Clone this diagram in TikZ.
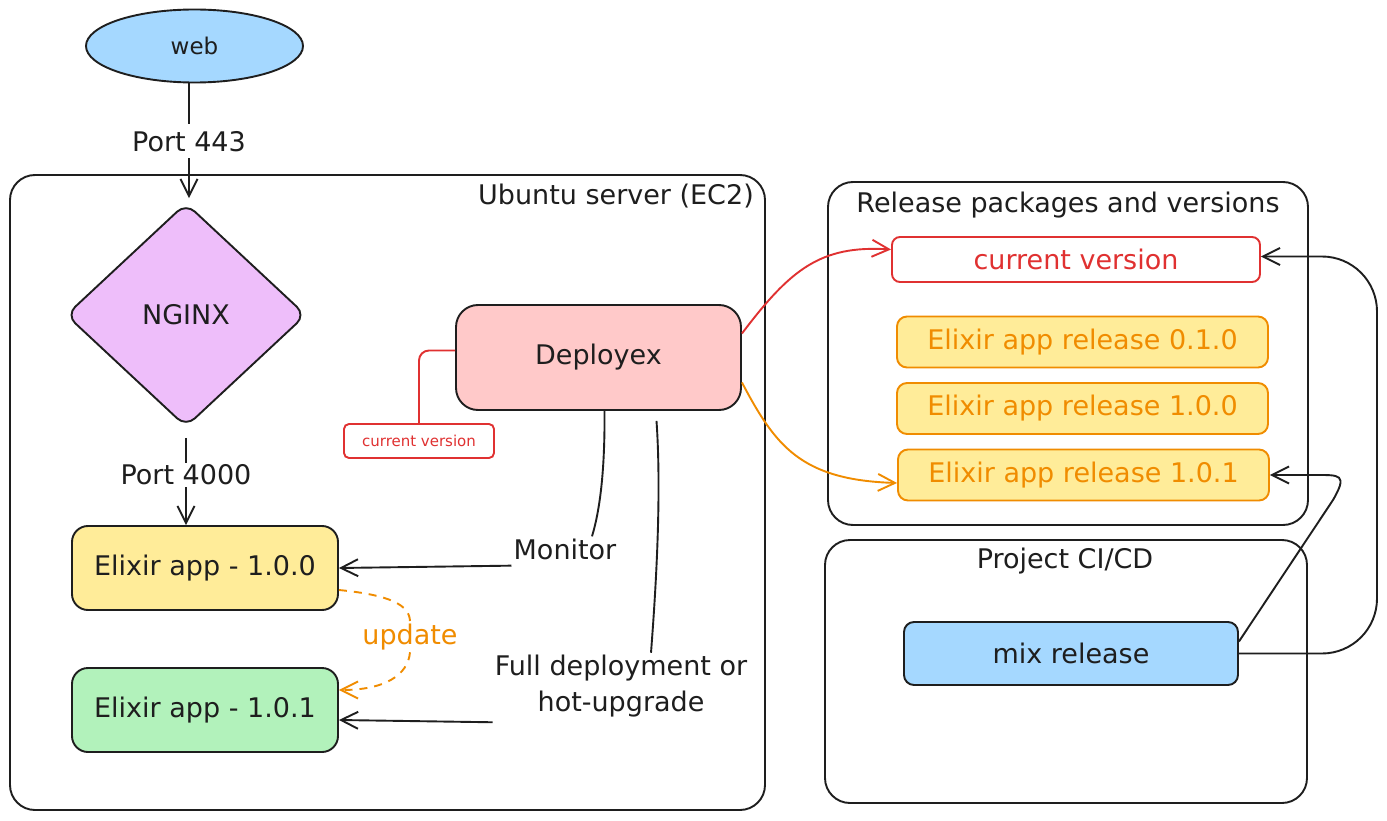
\documentclass[tikz,border=0pt]{standalone}
\usepackage{fontspec}
\setmainfont{DejaVu Sans}
\usetikzlibrary{shapes.geometric,arrows.meta}
\definecolor{ink}{HTML}{1E1E1E}
\definecolor{xred}{HTML}{E03131}
\definecolor{xorange}{HTML}{F08C00}
\definecolor{fyellow}{HTML}{FFEC99}
\definecolor{fgreen}{HTML}{B2F2BB}
\definecolor{fpink}{HTML}{FFC9C9}
\definecolor{fblue}{HTML}{A5D8FF}
\definecolor{fpurple}{HTML}{EEBEFA}
\newcommand\fsz[2]{\fontsize{#1}{#2}\selectfont}
\begin{document}
\begin{tikzpicture}[x=1pt,y=-1pt,
  every node/.style={text=ink, font=\fsz{27}{36}, inner sep=2pt},
  container/.style={draw=ink, line width=1.9pt, rounded corners=25pt, inner sep=0pt},
  box/.style={draw=ink, line width=1.9pt, inner sep=0pt},
  rel/.style={draw=xorange, fill=fyellow, text=xorange, line width=1.9pt, rounded corners=10pt, minimum width=371pt, minimum height=51pt, inner sep=0pt},
  conn/.style={draw=ink, line width=1.9pt},
  tipend/.style={-{Straight Barb[length=17pt,width=17pt]}},
  arr/.style={conn, tipend}
]
\fill[white] (0,0) rectangle (1387,821);
\useasboundingbox (0,0) rectangle (1387,821);

% containers
\node[container, minimum width=755pt, minimum height=635pt] (ubuntu) at (387.5,492.5) {};
\node (ubtitle) at (616,196) {Ubuntu server (EC2)};
\node[container, minimum width=480pt, minimum height=343pt] (relbox) at (1068,353.5) {};
\node (reltitle) at (1068,205) {Release packages and versions};
\node[container, minimum width=482pt, minimum height=263pt] (cibox) at (1066,671.5) {};
\node (cititle) at (1065,561) {Project CI/CD};

% left column
\node[ellipse, draw=ink, line width=1.9pt, fill=fblue, minimum width=217pt, minimum height=73pt, inner sep=0pt, font=\fsz{23}{28}] (web) at (194.5,46) {web};
\node (p443) at (189,142) {Port 443};
\node[diamond, draw=ink, line width=1.9pt, fill=fpurple, rounded corners=12pt, minimum width=240pt, minimum height=224pt, inner sep=0pt] (nginx) at (186,315) {NGINX};
\node (p4000) at (186,475) {Port 4000};
\node[box, fill=fyellow, rounded corners=16pt, minimum width=266pt, minimum height=84pt] (e100) at (205,568) {Elixir app - 1.0.0};
\node[box, fill=fgreen, rounded corners=16pt, minimum width=266pt, minimum height=84pt] (e101) at (205,710) {Elixir app - 1.0.1};

% deployex
\node[box, fill=fpink, rounded corners=22pt, minimum width=285pt, minimum height=105pt] (deployex) at (598.5,357.5) {Deployex};
\node[draw=xred, text=xred, line width=1.9pt, rounded corners=5pt, minimum width=150pt, minimum height=34pt, inner sep=0pt, font=\fsz{15}{18}] (cvsmall) at (419,441) {current version};
\node (monitor) at (565,549) {Monitor};
\node[align=center] (full) at (621,686) {Full deployment or\\hot-upgrade};
\node[text=xorange] (update) at (410,637) {update};

% releases
\node[draw=xred, fill=white, text=xred, line width=1.9pt, rounded corners=8pt, minimum width=368pt, minimum height=45pt, inner sep=0pt] (cvbig) at (1076,259.5) {current version};
\node[rel] (r010) at (1082.5,342) {Elixir app release 0.1.0};
\node[rel] (r100) at (1082.5,408.5) {Elixir app release 1.0.0};
\node[rel] (r101) at (1083.5,475) {Elixir app release 1.0.1};
\node[box, fill=fblue, rounded corners=10pt, minimum width=334pt, minimum height=63pt] (mix) at (1071,653.5) {mix release};

% connectors
\draw[conn] (p443.north |- web.south) -- ([yshift=6pt]p443.north);
\draw[arr] ([yshift=-4pt]p443.south) -- ([yshift=4pt]p443.south |- nginx.north);
\draw[conn] ([yshift=-10pt]nginx.south) -- (p4000.north);
\draw[arr] (p4000.south) -- (p4000.south |- e100.north);

\draw[xred, line width=1.9pt, rounded corners=10pt] ([yshift=7pt]deployex.west) -| (cvsmall.north);

\draw[conn] ([xshift=6pt]deployex.south) .. controls (605,470) and (600,510) .. ([xshift=27pt]monitor.north);
\draw[arr] ([yshift=-4pt]monitor.south west) -- (e100.east);

\draw[conn] ([xshift=58pt,yshift=-10pt]deployex.south) .. controls (662,500) and (655,600) .. ([xshift=30pt]full.north);
\draw[arr] ([yshift=-3pt]full.south west) -- ([yshift=-10pt]e101.east);

\draw[xorange, line width=1.9pt, dash pattern=on 8pt off 7pt] ([yshift=-22pt]e100.east) .. controls (390,595) and (410,605) .. (update.north);
\draw[xorange, line width=1.9pt, dash pattern=on 8pt off 7pt, tipend] (update.south) .. controls (408,675) and (385,690) .. ([yshift=20pt]e101.east);

\draw[xred, line width=1.9pt, tipend] ([yshift=24pt]deployex.east) .. controls (790,270) and (820,245) .. ([yshift=10pt]cvbig.west);
\draw[xorange, line width=1.9pt, tipend] ([yshift=-25pt]deployex.east) .. controls (775,445) and (800,480) .. ([yshift=-8pt]r101.west);

\coordinate (rside) at (1377,0);
\draw[arr, rounded corners=55pt] (mix.east) -- (mix.east -| rside) -- ([yshift=3pt]cvbig.east -| rside) -- ([yshift=3pt]cvbig.east);
\draw[arr] ([yshift=12pt]mix.east) -- (1333,500) .. controls (1348,474) and (1340,475) .. (1315,475) -- (r101.east);
\end{tikzpicture}
\end{document}
